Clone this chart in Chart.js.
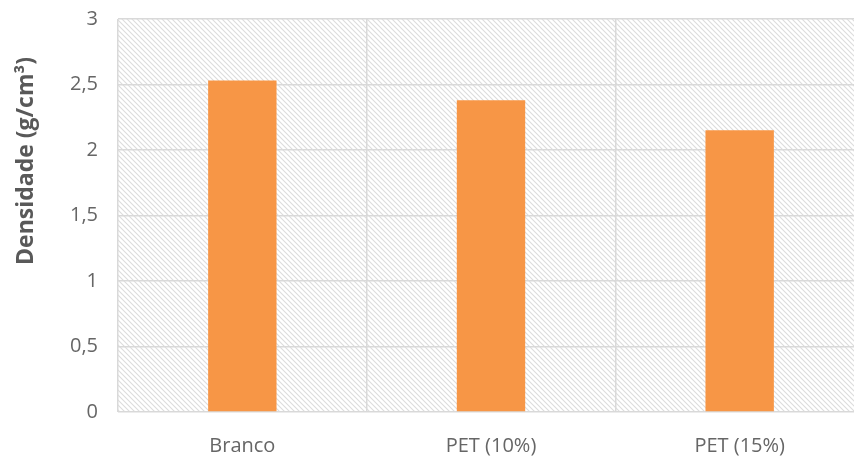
<!DOCTYPE html>
<html>
<head>
<meta charset="utf-8">
<script src="https://cdn.jsdelivr.net/npm/chart.js@4"></script>
<style>
  html, body { margin: 0; padding: 0; background: #fff; overflow: hidden; }
  #wrap { width: 864px; height: 478px; margin-top: -13px; }
</style>
</head>
<body>
<div id="wrap"><canvas id="grafico"></canvas></div>
<script>
const categorias = ["Branco", "PET (10%)", "PET (15%)"];
const densidade = [2.53, 2.38, 2.15];
const ticksY = [0, 0.5, 1, 1.5, 2, 2.5, 3];
const tituloY = "Densidade (g/cm³)";

const fonte = "'Open Sans'";

function hachura() {
    const c = document.createElement("canvas");
    c.width = 5; c.height = 5;
    const g = c.getContext("2d");
    g.fillStyle = "#ffffff";
    g.fillRect(0, 0, 5, 5);
    g.strokeStyle = "#dcdcdc";
    g.lineWidth = 1.1;
    g.beginPath();
    g.moveTo(-1, -1); g.lineTo(6, 6);
    g.moveTo(-1, 4); g.lineTo(1, 6);
    g.moveTo(4, -1); g.lineTo(6, 1);
    g.stroke();
    return g.createPattern(c, "repeat");
}

const fundo = {
    id: "fundo",
    beforeDraw(chart) {
        const a = chart.chartArea;
        const ctx = chart.ctx;
        ctx.save();
        ctx.fillStyle = hachura();
        ctx.fillRect(a.left, a.top, a.right - a.left, a.bottom - a.top);
        ctx.restore();
    },
    afterDraw(chart) {
        // titulo do eixo Y, um pouco acima do centro como no Excel
        const ctx = chart.ctx;
        ctx.save();
        ctx.translate(26, 161 + 13);
        ctx.rotate(-Math.PI / 2);
        ctx.fillStyle = "#595959";
        ctx.font = "bold 23px " + fonte;
        ctx.textAlign = "center";
        ctx.textBaseline = "middle";
        ctx.fillText(tituloY, 0, 0);
        ctx.restore();
    }
};

const ctx = document.getElementById("grafico").getContext("2d");
new Chart(ctx, {
    type: "bar",
    data: {
        labels: categorias,
        datasets: [{
            data: densidade,
            backgroundColor: "#f79646",
            borderWidth: 0,
            barPercentage: 0.55,
            categoryPercentage: 0.5
        }]
    },
    options: {
        responsive: true,
        maintainAspectRatio: false,
        animation: false,
        layout: { padding: { top: 0, right: 0, left: 0, bottom: -15 } },
        plugins: { legend: { display: false }, tooltip: { enabled: false } },
        scales: {
            x: {
                grid: { color: "#d9d9d9", lineWidth: 1.5, drawTicks: false },
                border: { display: false },
                ticks: { color: "#666666", font: { family: fonte, size: 20 }, padding: 22 }
            },
            y: {
                min: 0, max: 3,
                afterBuildTicks(scale) { scale.ticks = ticksY.map(v => ({ value: v })); },
                afterFit(scale) { scale.width = 118; },
                grid: { color: "#d9d9d9", lineWidth: 1.5, drawTicks: false },
                border: { display: false },
                ticks: {
                    color: "#666666", font: { family: fonte, size: 20 }, padding: 20,
                    callback: v => String(v).replace(".", ",")
                }
            }
        }
    },
    plugins: [fundo]
});
</script>
</body>
</html>
